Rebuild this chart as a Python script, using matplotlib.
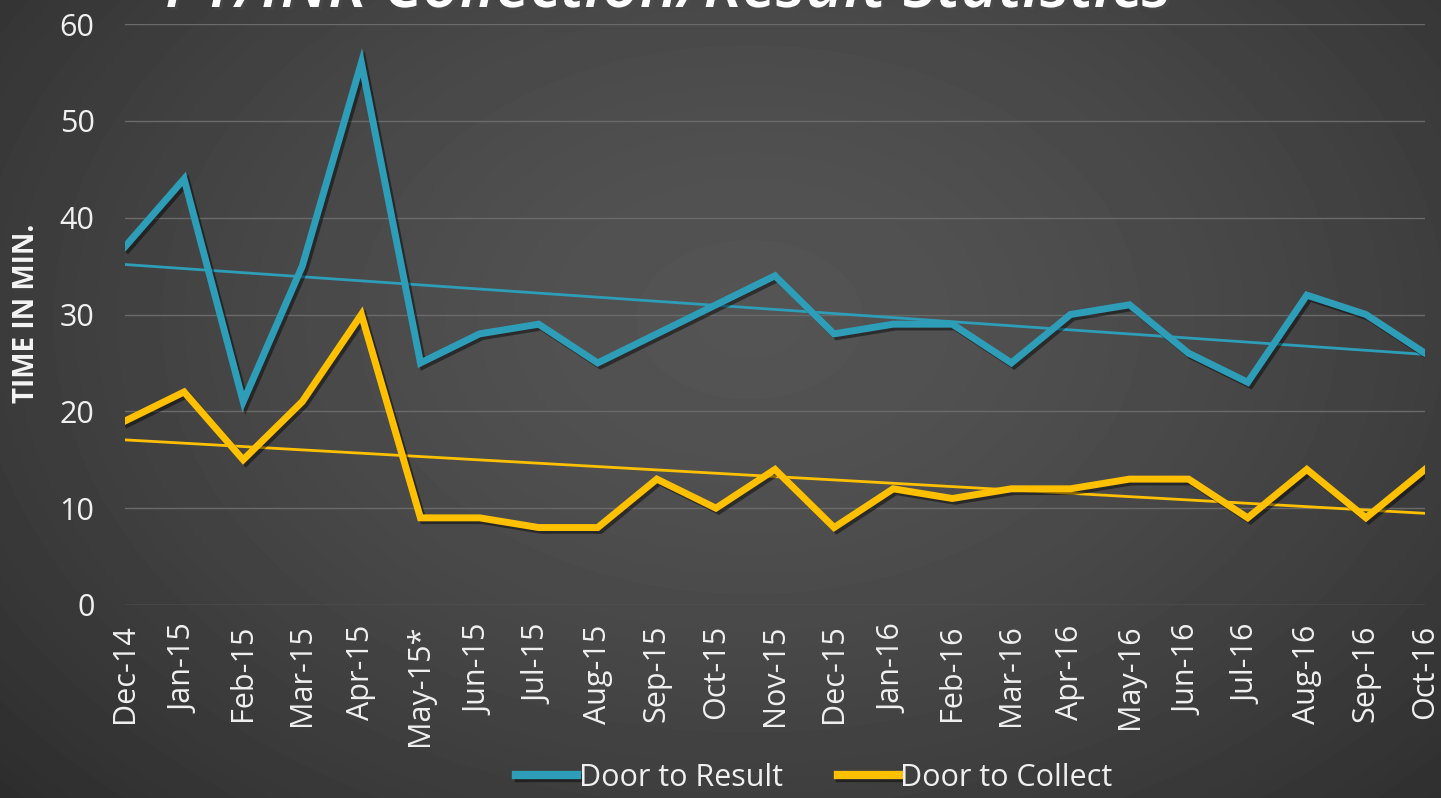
import numpy as np
import matplotlib
matplotlib.use("Agg")
import matplotlib.pyplot as plt
import matplotlib.patheffects as pe

months = ["Dec-14", "Jan-15", "Feb-15", "Mar-15", "Apr-15", "May-15*", "Jun-15", "Jul-15",
          "Aug-15", "Sep-15", "Oct-15", "Nov-15", "Dec-15", "Jan-16", "Feb-16", "Mar-16",
          "Apr-16", "May-16", "Jun-16", "Jul-16", "Aug-16", "Sep-16", "Oct-16"]
door_to_result = [37, 44, 21, 35, 56, 25, 28, 29, 25, 28, 31, 34, 28, 29, 29, 25,
                  30, 31, 26, 23, 32, 30, 26]
door_to_collect = [19, 22, 15, 21, 30, 9, 9, 8, 8, 13, 10, 14, 8, 12, 11, 12,
                   12, 13, 13, 9, 14, 9, 14]
yticks = [0, 10, 20, 30, 40, 50, 60]
title = "PT/INR Collection/Result Statistics"

BLUE = "#2E9DB8"
GOLD = "#FFC000"
FONT = ["Open Sans", "DejaVu Sans"]
plt.rcParams['font.family'] = FONT

W, H = 1441, 798
fig = plt.figure(figsize=(W / 100, H / 100), dpi=100)

# background radial gradient
bg = fig.add_axes([0, 0, 1, 1])
yy, xx = np.mgrid[0:H, 0:W]
cx, cy = 0.52 * W, 0.40 * H
r = np.sqrt(((xx - cx) / (0.75 * W)) ** 2 + ((yy - cy) / (0.95 * H)) ** 2)
r = np.clip(r, 0, 1)
light, dark = 0.33, 0.16
img = light - (light - dark) * r ** 1.5
bg.imshow(img, cmap="gray", vmin=0, vmax=1, aspect="auto", extent=[0, 1, 0, 1])
bg.set_axis_off()

ax = fig.add_axes([125 / W, 1 - 605 / H, 1300 / W, (605 - 24) / H])
ax.set_facecolor("none")
x = np.arange(len(months))

shadow = [pe.SimpleLineShadow(offset=(2, -2), shadow_color="black", alpha=0.45), pe.Normal()]
ax.plot(x, door_to_result, color=BLUE, lw=5.0, solid_joinstyle="miter", zorder=4,
        path_effects=shadow, label="Door to Result")
ax.plot(x, door_to_collect, color=GOLD, lw=5.0, solid_joinstyle="miter", zorder=4,
        path_effects=shadow, label="Door to Collect")

for series, col in [(door_to_result, BLUE), (door_to_collect, GOLD)]:
    k, b = np.polyfit(x, series, 1)
    ax.plot(x, k * x + b, color=col, lw=2.0, zorder=3)

ax.set_xlim(0, len(months) - 1)
ax.set_ylim(0, 60)
ax.set_yticks(yticks)
ax.set_xticks(x)
ax.set_xticklabels(months, rotation=90, fontsize=22, color="#F0F0F0")
ax.set_yticklabels([str(v) for v in yticks], fontsize=22, color="#F0F0F0")
ax.tick_params(axis="both", length=0)
ax.tick_params(axis="y", pad=22)
ax.tick_params(axis="x", pad=14)
ax.grid(axis="y", color="#6A6A6A", lw=1.0)
ax.set_axisbelow(True)
for s in ax.spines.values():
    s.set_visible(False)

fig.text(27 / W, 1 - 313 / H, "TIME IN MIN.", rotation=90, ha="center", va="center",
         fontsize=20, fontweight="bold", color="#F5F5F5")

fig.text(165 / W, 1 - 7 / H, title, ha="left", va="baseline", fontsize=47,
         fontstyle="italic", fontweight="semibold", color="white",
         path_effects=[pe.withSimplePatchShadow(offset=(2, -2), alpha=0.5)])

leg = fig.legend(loc="center", bbox_to_anchor=(0.565, 1 - 778 / H), ncol=2, frameon=False,
                 fontsize=22, labelcolor="#F0F0F0", handlelength=2.0, handletextpad=0.05,
                 columnspacing=1.8)
for h in leg.get_lines():
    h.set_linewidth(6)

fig.savefig("out.png", dpi=100)
